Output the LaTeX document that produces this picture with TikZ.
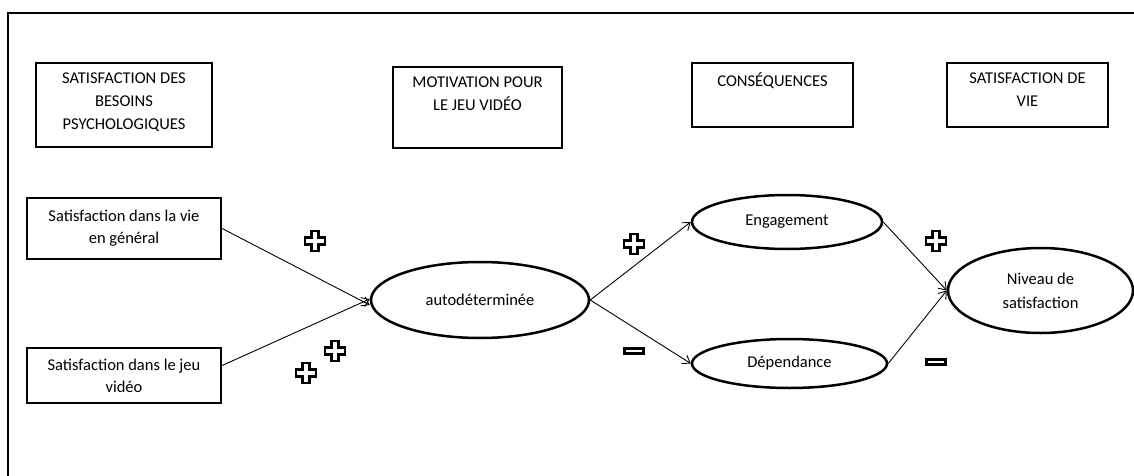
\documentclass[tikz,border=0pt]{standalone}
\usepackage{fontspec}
\setmainfont{Carlito}
\usetikzlibrary{shapes.geometric,arrows.meta}
\begin{document}
\begin{tikzpicture}[x=1pt,y=-1pt,
  hdrbox/.style={draw,line width=2.2pt,inner sep=0pt},
  hdrtext/.style={align=center,anchor=north,inner sep=0pt,font=\fontsize{16.5}{23}\selectfont},
  srcbox/.style={draw,line width=2.2pt,inner sep=0pt,align=center,font=\fontsize{16.5}{22}\selectfont},
  oval/.style={draw,ellipse,line width=2.5pt,inner sep=0pt,align=center,font=\fontsize{16.5}{24}\selectfont},
  link/.style={-{Straight Barb[length=7pt,width=10pt]},line width=0.9pt},
  plussign/.pic={\draw[line width=2.8pt] (-3.2,-10) -- (3.2,-10) -- (3.2,-3.2) -- (10,-3.2) -- (10,3.2) -- (3.2,3.2)
     -- (3.2,10) -- (-3.2,10) -- (-3.2,3.2) -- (-10,3.2) -- (-10,-3.2) -- (-3.2,-3.2) -- cycle;},
  minussign/.pic={\draw[line width=2.8pt] (-9.5,-2.8) rectangle (9.5,2.8);}]
\useasboundingbox (0,0) rectangle (1134,476);
\draw[line width=2.2pt] (1134,13) -| (8,476);
% column headings
\node[hdrbox,minimum width=176pt,minimum height=84pt] (besoins) at (124,105) {};
\node[hdrtext] (besoinsT) at ([yshift=-11pt]besoins.north) {SATISFACTION DES\\BESOINS\\PSYCHOLOGIQUES};
\node[hdrbox,minimum width=169pt,minimum height=81pt] (motiv) at (477.5,107.5) {};
\node[hdrtext] (motivT) at ([yshift=-11pt]motiv.north) {MOTIVATION POUR\\LE JEU VIDÉO};
\node[hdrbox,minimum width=161pt,minimum height=64pt] (conseq) at (772.5,95) {};
\node[hdrtext] (conseqT) at ([yshift=-11pt]conseq.north) {CONSÉQUENCES};
\node[hdrbox,minimum width=161pt,minimum height=64pt] (satvie) at (1027.5,95) {};
\node[hdrtext] (satvieT) at ([yshift=-11pt]satvie.north) {SATISFACTION DE\\VIE};
% model
\node[srcbox,minimum width=194pt,minimum height=61pt] (viegen) at (124,228.5) {Satisfaction dans la vie\\en général};
\node[srcbox,minimum width=194pt,minimum height=55pt] (jeu) at (124,375.5) {Satisfaction dans le jeu\\vidéo};
\node[oval,minimum width=218pt,minimum height=76pt] (autodet) at (480,300) {autodéterminée};
\node[oval,minimum width=190pt,minimum height=54pt] (engag) at (787,222) {Engagement};
\node[oval,minimum width=195pt,minimum height=49pt] (depend) at (789.5,363.5) {Dépendance};
\node[oval,minimum width=185pt,minimum height=85pt] (niveau) at (1040.5,290.5) {Niveau de\\satisfaction};
\draw[link] (viegen.east) -- ([yshift=-5pt]autodet.west);
\draw[link] ([yshift=10pt]jeu.east) -- ([yshift=1pt]autodet.west);
\draw[link] (autodet.east) -- (engag.west);
\draw[link] (autodet.east) -- (depend.west);
\draw[link] (engag.east) -- (niveau.west);
\draw[link] (depend.east) -- (niveau.west);
% signs
\pic at (315,241) {plussign};
\pic at (335,351) {plussign};
\pic at (306,373) {plussign};
\pic at (634,244) {plussign};
\pic at (634,351) {minussign};
\pic at (936,241) {plussign};
\pic at (936,362) {minussign};
\end{tikzpicture}
\end{document}
